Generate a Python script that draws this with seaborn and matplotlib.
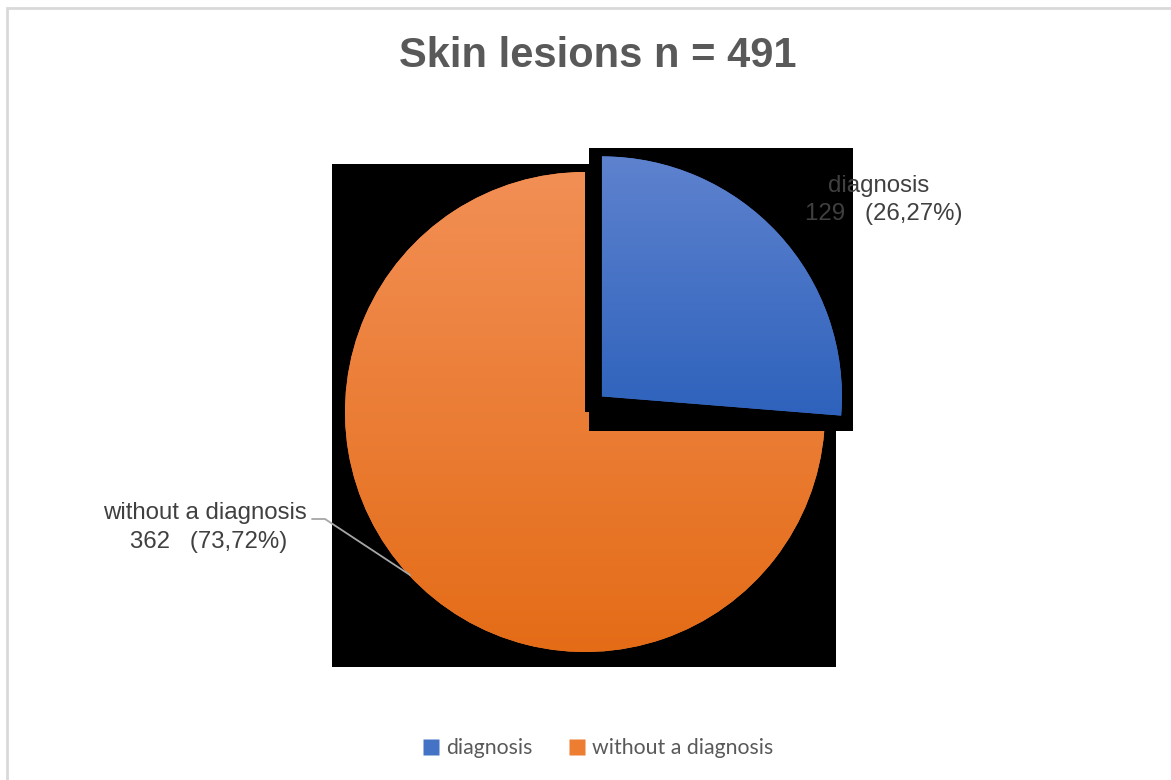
import numpy as np
import matplotlib
matplotlib.use("Agg")
import matplotlib.pyplot as plt
import seaborn as sns
from matplotlib.patches import Rectangle
from matplotlib.lines import Line2D
from matplotlib.colors import LinearSegmentedColormap

# ---- data ----
categories = ["diagnosis", "without a diagnosis"]
counts = [129, 362]
percent_labels = ["26,27%", "73,72%"]
title_text = "Skin lesions n = 491"

sns.set_theme(style="white")
plt.rcParams["font.family"] = ["Liberation Sans", "DejaVu Sans"]

W, H = 1171, 780
fig = plt.figure(figsize=(W / 100, H / 100), dpi=100)
ax = fig.add_axes([0, 0, 1, 1])
ax.set_xlim(0, W)
ax.set_ylim(0, H)
ax.axis("off")

# chart border (only top/left visible)
ax.add_patch(Rectangle((7, -20), W + 100, H - 8 + 20, fill=False,
                       edgecolor="#D9D9D9", lw=2, zorder=0, clip_on=False))

center = (585, H - 412)
radius = 240
grad_top = ["#5E82CE", "#F28F55"]
grad_bot = ["#2E62BC", "#E46C17"]
mid_cols = ["#4472C4", "#ED7D31"]

wedges, _ = ax.pie(counts, colors=mid_cols, startangle=90, counterclock=False,
                   center=center, radius=radius, explode=[23, 0],
                   wedgeprops=dict(linewidth=0), frame=True)
ax.set_aspect("equal")
ax.axis("off")

pads = dict(l=13, r=11, t=8, b=15)
# order: big rect, orange wedge, blue rect, blue wedge
order = [1, 0]
z = 2
for i in order:
    w = wedges[i]
    bb = w.get_path().get_extents()
    if i == 1:
        x0, x1 = center[0] - radius, center[0] + radius
        y0, y1 = center[1] - radius, center[1] + radius
    else:
        x0, x1, y0, y1 = bb.x0, bb.x1, bb.y0, bb.y1
    ax.add_patch(Rectangle((x0 - pads["l"], y0 - pads["b"]),
                           (x1 - x0) + pads["l"] + pads["r"],
                           (y1 - y0) + pads["t"] + pads["b"],
                           facecolor="black", edgecolor="none", zorder=z))
    w.set_zorder(z + 1)
    cmap = LinearSegmentedColormap.from_list("g%d" % i, [grad_bot[i], grad_top[i]])
    grad = np.linspace(0, 1, 256).reshape(-1, 1)
    im = ax.imshow(grad, cmap=cmap, origin="lower", aspect="auto",
                   extent=(bb.x0, bb.x1, bb.y0, bb.y1), zorder=z + 1.5)
    im.set_clip_path(w)
    z += 3
ax.set_xlim(0, W)
ax.set_ylim(0, H)

# data labels
lab_col = "#404040"
fs = 17.3
ax.text(879, H - 186, categories[0], ha="center", va="center", fontsize=fs,
        color=lab_col, zorder=20)
ax.text(884, H - 214, f"{counts[0]}   ({percent_labels[0]})", ha="center",
        va="center", fontsize=fs, color=lab_col, zorder=20)
ax.text(205, H - 513, categories[1], ha="center", va="center", fontsize=fs,
        color=lab_col, zorder=20)
ax.text(209, H - 542, f"{counts[1]}   ({percent_labels[1]})", ha="center",
        va="center", fontsize=fs, color=lab_col, zorder=20)
ax.plot([312, 325, 410], [H - 519, H - 519, H - 575], color="#A6A6A6",
        lw=1.3, zorder=20)

# title
ax.text(598, H - 56, title_text, ha="center", va="center", fontsize=30,
        fontweight="bold", color="#595959")

# legend
handles = [Line2D([], [], marker="s", linestyle="none", markersize=11,
                  markerfacecolor=mid_cols[k], markeredgecolor="none")
           for k in range(2)]
leg = fig.legend(handles, categories, loc="center", bbox_to_anchor=(598 / W, 1 - 748 / H),
                 ncol=2, frameon=False, handlelength=0.8, handletextpad=0.3,
                 columnspacing=1.7, prop=dict(family="Lato", size=15.3))
for t in leg.get_texts():
    t.set_color("#595959")

fig.savefig("out.png", dpi=100)
